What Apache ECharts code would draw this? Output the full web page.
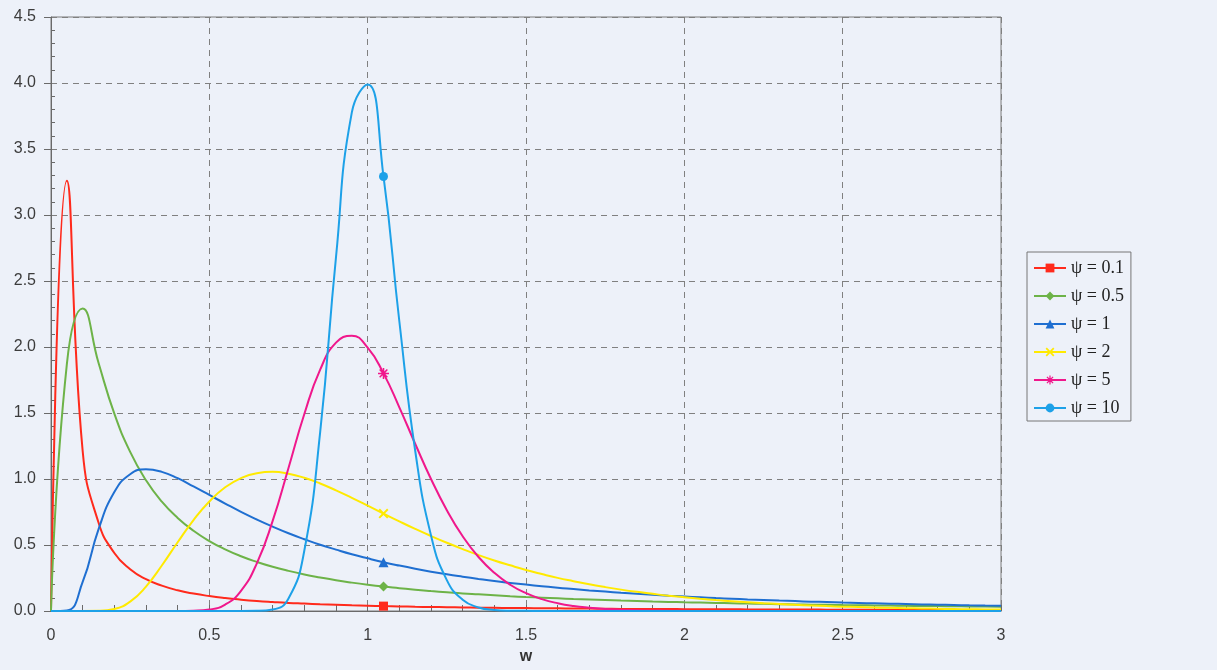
<!DOCTYPE html>
<html>
<head>
<meta charset="utf-8">
<script src="https://cdn.jsdelivr.net/npm/echarts@6/dist/echarts.min.js"></script>
<style>
html,body{margin:0;padding:0;background:#edf1f9;}
#c{width:1217px;height:670px;}
</style>
</head>
<body>
<div id="c"></div>
<script>
// sample points along w
const W = [0,0.05,0.1,0.15,0.2,0.25,0.3,0.35,0.4,0.45,0.5,0.55,0.6,0.65,0.7,0.75,0.8,0.85,0.9,0.95,1,
  1.05,1.1,1.15,1.2,1.25,1.3,1.35,1.4,1.45,1.5,1.55,1.6,1.65,1.7,1.75,1.8,1.85,1.9,1.95,2,
  2.05,2.1,2.15,2.2,2.25,2.3,2.35,2.4,2.45,2.5,2.55,2.6,2.65,2.7,2.75,2.8,2.85,2.9,2.95,3];

const SERIES_NAMES = ['ψ = 0.1','ψ = 0.5','ψ = 1','ψ = 2','ψ = 5','ψ = 10'];

const Y_PSI_01 = [0,3.260,1.212,0.670,0.439,0.316,0.241,0.192,0.157,0.132,0.113,0.098,0.086,0.076,0.068,0.061,0.056,0.051,0.047,0.043,0.040,
  0.037,0.035,0.032,0.030,0.029,0.027,0.025,0.024,0.023,0.022,0.021,0.020,0.019,0.018,0.017,0.016,0.016,0.015,0.015,0.014,
  0.014,0.013,0.013,0.012,0.012,0.011,0.011,0.011,0.010,0.010,0.010,0.009,0.009,0.009,0.009,0.008,0.008,0.008,0.008,0.008];

const Y_PSI_05 = [0,1.869,2.292,1.881,1.495,1.205,0.990,0.828,0.705,0.608,0.530,0.467,0.415,0.372,0.335,0.304,0.277,0.254,0.233,0.215,0.199,
  0.185,0.173,0.161,0.151,0.142,0.133,0.126,0.119,0.112,0.106,0.101,0.096,0.091,0.087,0.083,0.079,0.076,0.072,0.069,0.066,
  0.064,0.061,0.059,0.056,0.054,0.052,0.050,0.048,0.047,0.045,0.044,0.042,0.041,0.039,0.038,0.037,0.036,0.035,0.034,0.033];

const Y_PSI_1 = [0,0.004,0.220,0.618,0.901,1.036,1.073,1.054,1.006,0.944,0.879,0.814,0.751,0.693,0.639,0.589,0.544,0.502,0.465,0.430,0.399,
  0.370,0.344,0.320,0.298,0.278,0.260,0.243,0.227,0.213,0.200,0.188,0.176,0.166,0.156,0.147,0.138,0.130,0.123,0.116,0.110,
  0.104,0.098,0.093,0.088,0.084,0.079,0.075,0.071,0.068,0.064,0.061,0.058,0.055,0.053,0.050,0.048,0.046,0.043,0.041,0.039];

const Y_PSI_2 = [0,0,0,0.001,0.015,0.071,0.185,0.345,0.521,0.689,0.830,0.937,1.007,1.044,1.054,1.040,1.009,0.966,0.914,0.857,0.798,
  0.738,0.679,0.622,0.568,0.517,0.469,0.424,0.383,0.346,0.311,0.280,0.251,0.226,0.202,0.181,0.162,0.145,0.130,0.116,0.104,
  0.093,0.083,0.074,0.066,0.059,0.053,0.047,0.042,0.037,0.033,0.030,0.027,0.024,0.021,0.019,0.017,0.015,0.013,0.012,0.011];

const Y_PSI_5 = [0,0,0,0,0,0,0,0,0,0.002,0.011,0.049,0.153,0.361,0.683,1.084,1.492,1.828,2.033,2.085,1.995,
  1.800,1.543,1.267,1.000,0.764,0.566,0.409,0.289,0.199,0.135,0.090,0.059,0.038,0.025,0.016,0.010,0.006,0.004,0.002,0.001,
  0,0,0,0,0,0,0,0,0,0,0,0,0,0,0,0,0,0,0,0];

const Y_PSI_10 = [0,0,0,0,0,0,0,0,0,0,0,0,0,0.001,0.011,0.095,0.458,1.355,2.681,3.777,3.989,
  3.292,2.195,1.216,0.573,0.234,0.085,0.027,0.008,0.002,0.001,0,0,0,0,0,0,0,0,0,0,
  0,0,0,0,0,0,0,0,0,0,0,0,0,0,0,0,0,0,0,0];

const MARK_W = 1.05;

const X_PATH = 'path://M0,1.4L1.4,0L5,3.6L8.6,0L10,1.4L6.4,5L10,8.6L8.6,10L5,6.4L1.4,10L0,8.6L3.6,5Z';
const STAR_PATH = 'path://M4.3,0L5.7,0L5.7,4.3L10,4.3L10,5.7L5.7,5.7L5.7,10L4.3,10L4.3,5.7L0,5.7L0,4.3L4.3,4.3Z M1,2L2,1L5,4L8,1L9,2L6,5L9,8L8,9L5,6L2,9L1,8L4,5Z';

const defs = [
  {name: SERIES_NAMES[0], values: Y_PSI_01, color: '#ff2a1c', symbol: 'rect', size: 9},
  {name: SERIES_NAMES[1], values: Y_PSI_05, color: '#6db348', symbol: 'diamond', size: 10},
  {name: SERIES_NAMES[2], values: Y_PSI_1, color: '#1f6fd1', symbol: 'triangle', size: 10},
  {name: SERIES_NAMES[3], values: Y_PSI_2, color: '#ffea00', symbol: X_PATH, size: 10},
  {name: SERIES_NAMES[4], values: Y_PSI_5, color: '#f0188c', symbol: STAR_PATH, size: 11},
  {name: SERIES_NAMES[5], values: Y_PSI_10, color: '#1da1e8', symbol: 'circle', size: 9}
];

const axisColor = '#6a6a6a';
const labelFont = {fontSize: 16, color: '#3c3c3c', fontFamily: 'Liberation Sans'};
const gridLine = {show: true, lineStyle: {type: [6, 5], color: '#808080', width: 1}};

const chart = echarts.init(document.getElementById('c'), null, {renderer: 'canvas'});
chart.setOption({
  animation: false,
  backgroundColor: '#edf1f9',
  grid: {left: 51, right: 216, top: 17, bottom: 57, show: true, borderColor: '#7a7a7a', borderWidth: 1, backgroundColor: 'transparent'},
  xAxis: [{
    type: 'value', min: 0, max: 3, interval: 0.5,
    name: 'w', nameLocation: 'middle', nameGap: 38,
    nameTextStyle: {fontSize: 16, fontWeight: 'bold', color: '#333', fontFamily: 'Liberation Sans'},
    axisLine: {show: true, lineStyle: {color: axisColor, width: 1}},
    axisTick: {show: true, inside: true, length: 6, lineStyle: {color: axisColor}},
    minorTick: {show: true, splitNumber: 5, length: 6, lineStyle: {color: axisColor}},
    axisLabel: Object.assign({margin: 17}, labelFont),
    splitLine: gridLine
  }],
  yAxis: [{
    type: 'value', min: 0, max: 4.5, interval: 0.5,
    axisLine: {show: true, lineStyle: {color: axisColor, width: 1}},
    axisTick: {show: true, inside: false, length: 7, lineStyle: {color: axisColor}},
    axisLabel: Object.assign({margin: 15, formatter: v => v.toFixed(1)}, labelFont),
    splitLine: gridLine
  }, {
    type: 'value', min: 0, max: 4.5, interval: 0.5, position: 'left',
    axisLine: {show: false},
    axisTick: {show: false, inside: true},
    minorTick: {show: true, splitNumber: 5, length: 4, lineStyle: {color: axisColor}},
    axisLabel: {show: false},
    splitLine: {show: false}
  }],
  legend: {
    orient: 'vertical', left: 1027, top: 252,
    itemWidth: 32, itemHeight: 11, itemGap: 10,
    padding: [7, 7, 4, 6],
    borderColor: '#777', borderWidth: 1, backgroundColor: '#edf1f9',
    textStyle: {fontFamily: 'Liberation Serif', fontSize: 18, color: '#222'},
    data: SERIES_NAMES
  },
  series: defs.map((d, k) => ({
    type: 'line', name: d.name, xAxisIndex: 0, yAxisIndex: 0,
    data: W.map((w, i) => w === MARK_W ? {value: [w, d.values[i]]} : {value: [w, d.values[i]], symbol: 'none'}),
    symbol: d.symbol, symbolSize: d.size, showSymbol: true, showAllSymbol: true,
    smooth: 0.5,
    lineStyle: {color: d.color, width: 2},
    itemStyle: {color: d.color},
    z: 2 + k
  }))
});
</script>
</body>
</html>
